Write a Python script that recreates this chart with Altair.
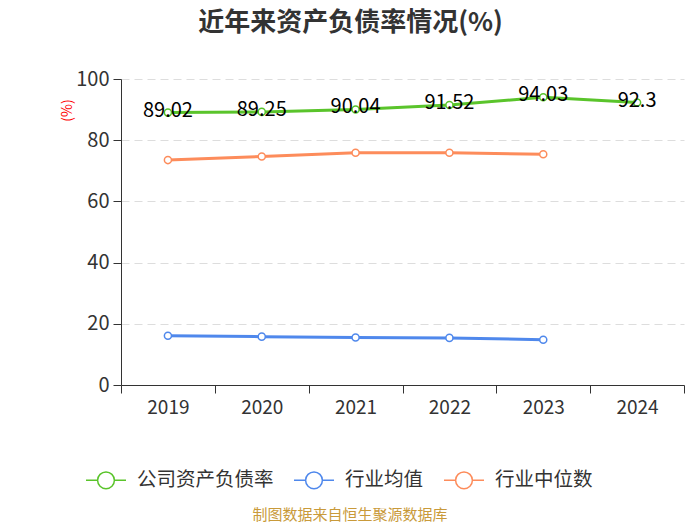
import altair as alt
import pandas as pd

years = ["2019", "2020", "2021", "2022", "2023", "2024"]
company = [89.02, 89.25, 90.04, 91.52, 94.03, 92.3]
ind_mean = [16.1, 15.8, 15.5, 15.4, 14.8]
ind_median = [73.5, 74.7, 75.9, 75.9, 75.4]
series = ["公司资产负债率", "行业均值", "行业中位数"]
colors = ["#5ac42b", "#4f88ec", "#fd8c5b"]

rows = []
for vals, name in zip([company, ind_mean, ind_median], series):
    for y, v in zip(years, vals):
        rows.append({"year": y, "value": v, "series": name})
df = pd.DataFrame(rows)

FONT = "Noto Sans CJK SC"

x = alt.X("year:N", sort=years,
          scale=alt.Scale(type="band", domain=years, paddingInner=0, paddingOuter=0),
          axis=alt.Axis(title=None, tickBand="extent", labelFontSize=19, labelColor="#333",
                        labelPadding=5, domainColor="#333", tickColor="#333", tickSize=8,
                        labelAngle=0, grid=False))
y = alt.Y("value:Q", scale=alt.Scale(domain=[0, 100]),
          axis=alt.Axis(title="(%)", titleColor="red", titleFontSize=14, titleFontWeight="normal",
                        titleX=-54, titleY=31, titleAngle=270, titleAlign="center",
                        titleBaseline="middle",
                        values=[0, 20, 40, 60, 80, 100], labelFontSize=20, labelColor="#333",
                        domainColor="#333", tickColor="#333", tickSize=8, labelPadding=4,
                        grid=True, gridColor="#dddddd", gridDash=[8, 5], gridWidth=1))
color = alt.Color("series:N", scale=alt.Scale(domain=series, range=colors),
                  legend=alt.Legend(title=None, orient="none", legendX=-36, legendY=380,
                                    direction="horizontal",
                                    symbolType="M-1,0L-0.42,0M0.42,0L1,0M0.42,0A0.42,0.42,0,1,1,-0.42,0A0.42,0.42,0,1,1,0.42,0Z",
                                    symbolSize=1600, symbolStrokeWidth=1.5, symbolFillColor="white",
                                    labelFontSize=19.5, labelColor="#333", labelOffset=10,
                                    columnPadding=17, labelFont=FONT))

base = alt.Chart(df).encode(x=x, y=y, color=color)
lines = base.mark_line(strokeWidth=3)
points = base.mark_point(filled=False, fill="white", size=50, strokeWidth=1.5, opacity=1)
labels = base.transform_filter(alt.datum.series == series[0]).mark_text(
    fontSize=20, color="black", dy=-2, font=FONT).encode(text=alt.Text("value:Q"), color=alt.value("black"))

footer_df = pd.DataFrame({"t": ["制图数据来自恒生聚源数据库"]})
footer = alt.Chart(footer_df).mark_text(fontSize=15, color="#c99a3a", font=FONT).encode(
    text="t:N", x=alt.value(229), y=alt.value(436))

chart = alt.layer(lines, points, labels, footer).properties(
    width=563, height=306,
    title=alt.TitleParams("近年来资产负债率情况(%)", fontSize=26, fontWeight="bold", color="#333",
                          anchor="middle", dx=-52, offset=33, font=FONT),
    autosize=alt.AutoSizeParams(type="none"),
    padding={"left": 113, "top": 71, "right": 8, "bottom": 140},
).configure(font=FONT).configure_view(stroke=None)

chart.save("out.html", embed_options={"renderer": "svg", "actions": False})
